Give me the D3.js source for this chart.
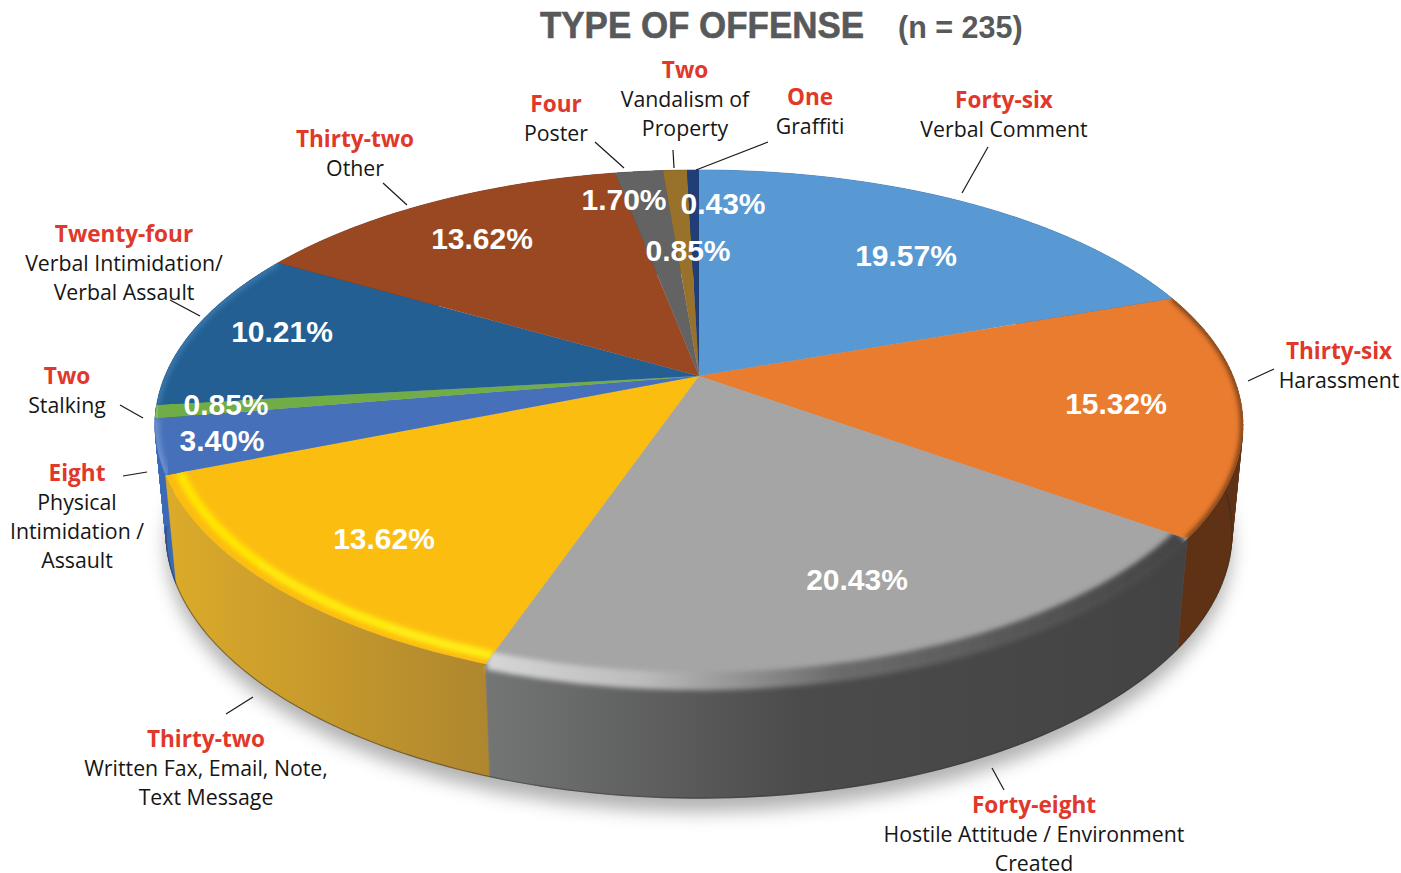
<!DOCTYPE html>
<html>
<head>
<meta charset="utf-8">
<script src="https://cdnjs.cloudflare.com/ajax/libs/d3/7.8.5/d3.min.js"></script>
<style>
  html, body { margin: 0; padding: 0; background: #fff; overflow: hidden; }
  .name { font-family: "Open Sans", sans-serif; font-size: 21.3px; fill: #161616; text-anchor: middle; }
  .count { font-family: "Open Sans", sans-serif; font-size: 22.6px; font-weight: 700; fill: #e0382a; text-anchor: middle; }
  .pct { font-family: "Liberation Sans", sans-serif; font-size: 30px; font-weight: 700; fill: #fff; text-anchor: middle; }
</style>
</head>
<body>
<div id="chart"></div>
<script>
// values, clockwise from 12 o'clock
var counts = [46, 36, 48, 32, 8, 2, 24, 32, 4, 2, 1];
var countWords = ["Forty-six", "Thirty-six", "Forty-eight", "Thirty-two", "Eight", "Two", "Twenty-four", "Thirty-two", "Four", "Two", "One"];
var offenseNames = [
	["Verbal Comment"],
	["Harassment"],
	["Hostile Attitude / Environment", "Created"],
	["Written Fax, Email, Note,", "Text Message"],
	["Physical", "Intimidation /", "Assault"],
	["Stalking"],
	["Verbal Intimidation/", "Verbal Assault"],
	["Other"],
	["Poster"],
	["Vandalism of", "Property"],
	["Graffiti"]
];
var percentLabels = ["19.57%", "15.32%", "20.43%", "13.62%", "3.40%", "0.85%", "10.21%", "13.62%", "1.70%", "0.85%", "0.43%"];
var sliceColors = ["#5898d3", "#ea7c30", "#a5a5a5", "#fcbd11", "#4670ba", "#70ad47", "#235f92", "#9a4821", "#636363", "#98722a", "#203f78"];

// layout, kept apart from the values
var width = 1401;
var height = 873;
var centerX = 699, centerY = 376;
var discA = 247.2, discB = 534, tiltY = 0.2, tiltX = 0.19;   // perspective of the disc
var wallDrop = 107, wallScaleX = 0.98, wallScaleY = 1.02;

var wallStops = [
	[[0, "#3a6ca8"], [1, "#3a6ca8"]],
	[[0, "#5f3215"], [1, "#5f3215"]],
	[[0, "#747675"], [0.45, "#4a4b4a"], [1, "#434343"]],
	[[0, "#dcab2a"], [1, "#ae862f"]],
	[[0, "#3a69b5"], [1, "#3a69b5"]],
	[[0, "#3a69b5"], [1, "#3a69b5"]],
	[[0, "#1b4a72"], [1, "#1b4a72"]],
	[[0, "#6e3418"], [1, "#6e3418"]],
	[[0, "#474747"], [1, "#474747"]],
	[[0, "#6e531f"], [1, "#6e531f"]],
	[[0, "#162c54"], [1, "#162c54"]]
];
// colour of the soft band near the rim
var rimStops = [
	null,
	[[0, "#6b3817"], [1, "#6b3817"]],
	[[0, "#d6d6d6"], [0.22, "#bcbcbc"], [0.5, "#6c6c6c"], [1, "#444444"]],
	[[0, "#ffe600"], [1, "#fff01a"]],
	[[0, "#6b8fce"], [1, "#6b8fce"]],
	[[0, "#8cc46a"], [1, "#8cc46a"]],
	[[0, "#3a78ae"], [1, "#3a78ae"]],
	null, null, null, null
];
var rimWidths = [0, 5, 18, 9, 9, 7, 7, 0, 0, 0, 0];
var rimRadius = [1, 1, 0.99, 0.975, 1, 1, 1, 1, 1, 1, 1];
var rimSpill = [1, 1, 1.03, 1.03, 1, 1, 1, 1, 1, 1, 1];

var countPos = [[1004, 108], [1339, 359], [1034, 813], [206, 747], [77, 481], [67, 384], [124, 242], [355, 147], [556, 112], [685, 78], [810, 105]];
var percentPos = [[906, 266], [1116, 414], [857, 590], [384, 549], [222, 451], [226, 415], [282, 342], [482, 249], [624, 210], [688, 261], [723, 214]];
var leaderPos = [
	[[988, 147], [962, 193]],
	[[1274, 369], [1248, 381]],
	[[992, 768], [1004, 790]],
	[[253, 697], [226, 714]],
	[[147, 472], [123, 476]],
	[[120, 405], [143, 418]],
	[[170, 300], [200, 316]],
	[[383, 183], [407, 205]],
	[[595, 142], [624, 168]],
	[[673, 150], [674, 168]],
	[[768, 142], [696, 170]]
];

var svg = d3.select("#chart")
	.append("svg")
		.attr("width", width)
		.attr("height", height)
		.style("display", "block")
		;
var defs = svg.append("defs");

function blur(id, sd) {
	defs.append("filter")
		.attr("id", id)
		.attr("x", "-20%").attr("y", "-20%")
		.attr("width", "140%").attr("height", "140%")
		.append("feGaussianBlur")
			.attr("stdDeviation", sd);
}
blur("shadowBlur", 9);
blur("rimBlur", 2.5);

// gradient running left to right over a slice's own extent
function hGradient(id, stops, x0, x1) {
	var g = defs.append("linearGradient")
		.attr("id", id)
		.attr("gradientUnits", "userSpaceOnUse")
		.attr("x1", x0).attr("x2", x1)
		.attr("y1", 0).attr("y2", 0);
	stops.forEach(function(s) {
		g.append("stop").attr("offset", s[0]).attr("stop-color", s[1]);
	});
}

// angle on the disc -> screen
function topPoint(a, r) {
	var u = r * Math.sin(a), v = -r * Math.cos(a);
	return [centerX + discB * u / (1 - tiltX * v), centerY + discA * v / (1 - tiltY * v)];
}
function bottomPoint(a, r) {
	var p = topPoint(a, r);
	return [centerX + (p[0] - centerX) * wallScaleX, centerY + (p[1] - centerY) * wallScaleY + wallDrop];
}
function arcSamples(d, fn, r) {
	return d3.range(0, 61).map(function(i) {
		return fn(d.startAngle + (d.endAngle - d.startAngle) * i / 60, r);
	});
}

var pie = d3.pie().sort(null).value(function(d) { return d; }).padAngle(0);
var slices = pie(counts);
var line = d3.line();

// wall = strips between top and bottom rim, all wound the same way
function wallPath(d) {
	var top = arcSamples(d, topPoint, 1);
	var bot = arcSamples(d, bottomPoint, 1);
	var out = "";
	for (var i = 0; i < top.length - 1; i++) {
		var quad = [top[i], top[i + 1], bot[i + 1], bot[i]];
		if (d3.polygonArea(quad) < 0) quad.reverse();
		out += line(quad) + "Z";
	}
	return out;
}

// soft shadow under the pie
var full = { startAngle: 0, endAngle: 2 * Math.PI };
svg.append("path")
	.attr("d", line(arcSamples(full, bottomPoint, 1.0)) + "Z")
	.attr("transform", "translate(0,14)")
	.attr("fill", "#000")
	.attr("fill-opacity", 0.3)
	.attr("filter", "url(#shadowBlur)")
	;

// walls, back ones first
function nearness(d) {
	return -Math.abs((d.startAngle + d.endAngle) / 2 - Math.PI);
}
var wallOrder = slices.slice().sort(function(a, b) { return nearness(a) - nearness(b); });
svg.selectAll("path.wall")
	.data(wallOrder)
	.enter().append("path")
	.attr("class", "wall")
	.attr("d", function(d) {
		var pts = arcSamples(d, topPoint, 1).concat(arcSamples(d, bottomPoint, 1));
		var xs = pts.map(function(p) { return p[0]; });
		hGradient("wall" + d.index, wallStops[d.index], d3.min(xs), d3.max(xs));
		return wallPath(d);
	})
	.attr("fill", function(d) { return "url(#wall" + d.index + ")"; })
	.attr("stroke", function(d) { return "url(#wall" + d.index + ")"; })
	.attr("stroke-width", 0.6)
	;

// thin dark line on the wall's lower edge
svg.selectAll("path.wallEdge")
	.data(slices.slice(1, 5))
	.enter().append("path")
	.attr("class", "wallEdge")
	.attr("d", function(d) { return line(arcSamples(d, bottomPoint, 1)); })
	.attr("fill", "none")
	.attr("stroke", "#2e2a20")
	.attr("stroke-opacity", 0.5)
	.attr("stroke-width", 1.2)
	;

function slicePath(d, r) {
	return line([[centerX, centerY]].concat(arcSamples(d, topPoint, r))) + "Z";
}

// top faces
svg.selectAll("path.face")
	.data(slices)
	.enter().append("path")
	.attr("class", "face")
	.attr("d", function(d) { return slicePath(d, 1); })
	.attr("fill", function(d, i) { return sliceColors[i]; })
	;

// rim bands, blurred and clipped to each face
slices.forEach(function(d, i) {
	if (!rimWidths[i]) return;
	var pts = arcSamples(d, topPoint, rimRadius[i]);
	var xs = pts.map(function(p) { return p[0]; });
	hGradient("rim" + i, rimStops[i], d3.min(xs), d3.max(xs));
	defs.append("clipPath")
		.attr("id", "clip" + i)
		.append("path")
			.attr("d", slicePath(d, rimSpill[i]));
	svg.append("g")
		.attr("clip-path", "url(#clip" + i + ")")
		.append("path")
			.attr("d", line(pts))
			.attr("fill", "none")
			.attr("stroke", "url(#rim" + i + ")")
			.attr("stroke-width", rimWidths[i])
			.attr("filter", "url(#rimBlur)")
			;
});

// leader lines
svg.selectAll("path.leader")
	.data(leaderPos)
	.enter().append("path")
	.attr("class", "leader")
	.attr("d", line)
	.attr("stroke", "#1a1a1a")
	.attr("stroke-width", 1.2)
	.attr("fill", "none")
	;

// percentages
svg.selectAll("text.pct")
	.data(percentLabels)
	.enter().append("text")
	.attr("class", "pct")
	.attr("x", function(d, i) { return percentPos[i][0]; })
	.attr("y", function(d, i) { return percentPos[i][1]; })
	.text(function(d) { return d; })
	;

// outside labels
var labels = svg.selectAll("g.label")
	.data(countWords)
	.enter().append("g")
	.attr("class", "label")
	.attr("transform", function(d, i) { return "translate(" + countPos[i][0] + "," + countPos[i][1] + ")"; })
	;
labels.append("text")
	.attr("class", "count")
	.text(function(d) { return d; })
	;
labels.each(function(d, i) {
	d3.select(this).selectAll("text.name")
		.data(offenseNames[i])
		.enter().append("text")
		.attr("class", "name")
		.attr("y", function(n, j) { return 29 * (j + 1); })
		.text(function(n) { return n; })
		;
});

// title
svg.append("text")
	.attr("x", 540).attr("y", 37.5)
	.attr("font-family", "Liberation Sans, sans-serif")
	.attr("font-weight", 700)
	.attr("font-size", 37)
	.attr("textLength", 324)
	.attr("lengthAdjust", "spacingAndGlyphs")
	.attr("fill", "#58595b")
	.attr("stroke", "#58595b")
	.attr("stroke-width", 0.6)
	.text("TYPE OF OFFENSE")
	;
svg.append("text")
	.attr("x", 898).attr("y", 38)
	.attr("font-family", "Liberation Sans, sans-serif")
	.attr("font-weight", 700)
	.attr("font-size", 30.5)
	.attr("fill", "#58595b")
	.text("(n = 235)")
	;
</script>
</body>
</html>
